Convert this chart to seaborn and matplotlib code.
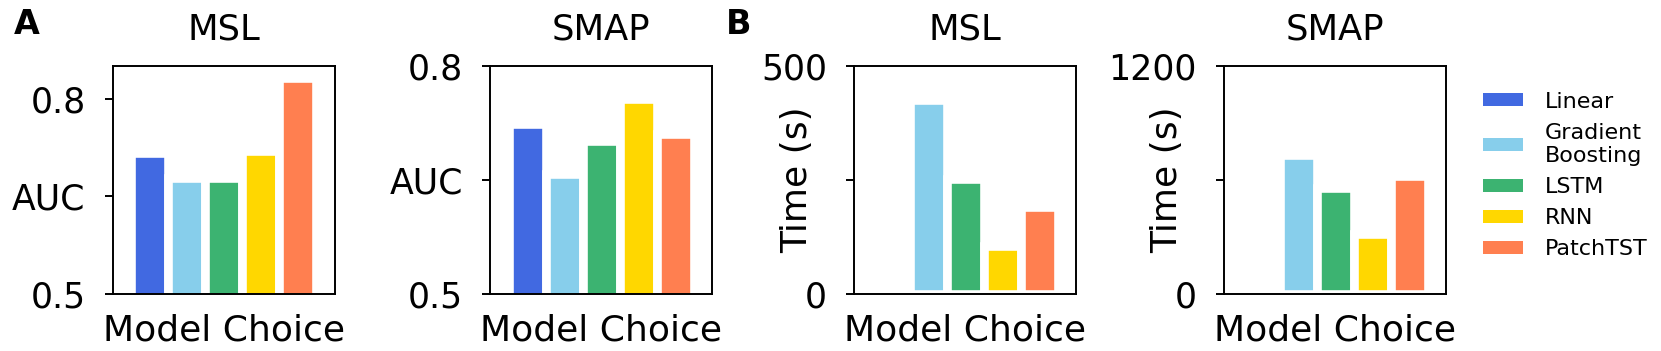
"""
AUC and training time per model on MSL and SMAP (panels A and B).
"""
import matplotlib
matplotlib.use("Agg")
import matplotlib.pyplot as plt
from matplotlib.patches import Patch
import seaborn as sns
import pandas as pd

MODELS = ["Linear", "Gradient\nBoosting", "LSTM", "RNN", "PatchTST"]
COLORS = ["#4169E1", "#87CEEB", "#3CB371", "#FFD700", "#FF7F50"]

AUC_MSL = [0.716, 0.678, 0.678, 0.720, 0.832]
AUC_SMAP = [0.724, 0.658, 0.701, 0.757, 0.711]
TIME_MSL = [0, 425, 252, 106, 191]
TIME_SMAP = [0, 732, 557, 317, 623]

sns.set_style("ticks")
plt.rcParams["font.family"] = ["DejaVu Sans"]
plt.rcParams["text.color"] = "black"
plt.rcParams["axes.labelcolor"] = "black"
plt.rcParams["xtick.color"] = "black"
plt.rcParams["ytick.color"] = "black"

W, H = 1661, 351
fig = plt.figure(figsize=(W / 100, H / 100), dpi=100)


def add_panel(left_px):
    return fig.add_axes([left_px / W, (H - 294.3) / H, 222.3 / W, 228.3 / H])


def draw_panel(ax, values, title, ylim, ticks, ticklabels, ylabel=None):
    df = pd.DataFrame({"choice": "Model Choice", "model": MODELS, "value": values})
    sns.barplot(data=df, x="choice", y="value", hue="model", hue_order=MODELS,
                palette=COLORS, saturation=1, edgecolor="white", linewidth=6.2,
                legend=False, ax=ax)
    ax.set_xlim(-0.48, 0.48)
    ax.set_ylim(*ylim)
    ax.set_xticks([])
    ax.set_yticks(ticks)
    ax.set_yticklabels(ticklabels)
    ax.tick_params(axis="y", length=5.5, width=1.4, pad=14, labelsize=25,
                   color="black", labelcolor="black")
    for sp in ax.spines.values():
        sp.set_visible(True)
        sp.set_linewidth(1.4)
        sp.set_color("black")
    ax.set_title(title, fontsize=25.5, pad=19, color="black")
    ax.set_xlabel("Model Choice", fontsize=26, labelpad=14, color="black")
    if ylabel:
        ax.set_ylabel(ylabel, fontsize=26, color="black")
        ax.yaxis.set_label_coords(-0.18, 0.5)
    else:
        ax.set_ylabel("")


ax1 = add_panel(112.7)
draw_panel(ax1, AUC_MSL, "MSL", (0.5, 0.85), [0.5, 0.65, 0.8], ["0.5", "AUC", "0.8"])
ax2 = add_panel(490)
draw_panel(ax2, AUC_SMAP, "SMAP", (0.5, 0.8), [0.5, 0.65, 0.8], ["0.5", "AUC", "0.8"])
ax3 = add_panel(854)
draw_panel(ax3, TIME_MSL, "MSL", (0, 500), [0, 250, 500], ["0", "", "500"], "Time (s)")
ax4 = add_panel(1224)
draw_panel(ax4, TIME_SMAP, "SMAP", (0, 1200), [0, 600, 1200], ["0", "", "1200"], "Time (s)")

fig.text(14 / W, 1 - 8 / H, "A", fontsize=24, fontweight="bold", va="top", ha="left")
fig.text(726 / W, 1 - 8 / H, "B", fontsize=24, fontweight="bold", va="top", ha="left")

handles = [Patch(facecolor=c, edgecolor="none") for c in COLORS]
fig.legend(handles, MODELS, loc="center left", bbox_to_anchor=(1483 / W, 0.5),
           frameon=False, fontsize=16, borderpad=0, borderaxespad=0,
           handlelength=1.8, handleheight=0.5, handletextpad=1.0, labelspacing=0.5)

fig.savefig("out.png", dpi=100)
